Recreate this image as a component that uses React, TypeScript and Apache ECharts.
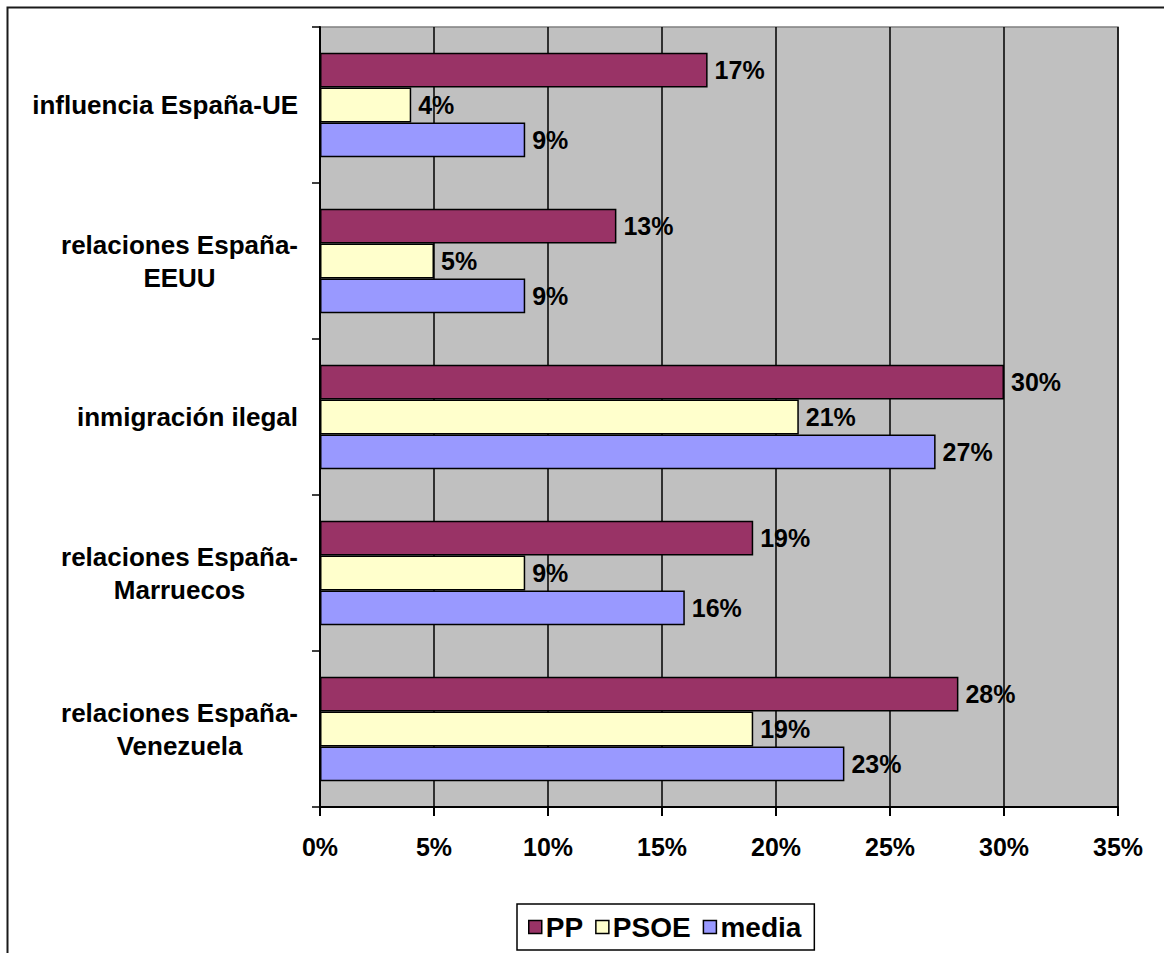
import React, { useEffect, useRef } from "react";
import * as echarts from "echarts";

const categories = [
  "influencia España-UE",
  "relaciones España-\nEEUU",
  "inmigración ilegal",
  "relaciones España-\nMarruecos",
  "relaciones España-\nVenezuela",
];
const seriesNames = ["PP", "PSOE", "media"];
const ppValues = [17, 13, 30, 19, 28];
const psoeValues = [4, 5, 21, 9, 19];
const mediaValues = [9, 9, 27, 16, 23];
const seriesColors = ["#993366", "#FFFFCC", "#9999FF"];
const xTicks = { min: 0, max: 35, interval: 5 };

const FONT = "'Liberation Sans', Arial, sans-serif";

export default function App() {
  const ref = useRef<HTMLDivElement>(null);
  useEffect(() => {
    if (!ref.current) return;
    const chart = echarts.init(ref.current, null, { renderer: "svg" });
    const values = [ppValues, psoeValues, mediaValues];
    chart.setOption({
      animation: false,
      backgroundColor: "#ffffff",
      textStyle: { fontFamily: FONT },
      graphic: [
        {
          type: "rect",
          shape: { x: 7.5, y: 7.5, width: 1300, height: 1100 },
          style: { fill: "none", stroke: "#1a1a1a", lineWidth: 2 },
          z: 0,
        },
      ],
      grid: {
        left: 320,
        top: 27,
        width: 798,
        height: 780,
        show: true,
        backgroundColor: "#C0C0C0",
        borderColor: "#808080",
        borderWidth: 1.5,
      },
      legend: {
        left: 517,
        top: 904,
        orient: "horizontal",
        padding: [9, 13, 9, 11],
        itemWidth: 13,
        itemHeight: 13,
        itemGap: 12,
        borderColor: "#000",
        borderWidth: 1.5,
        backgroundColor: "#fff",
        icon: "rect",
        textStyle: { fontFamily: FONT, fontWeight: "bold", fontSize: 28, color: "#000", padding: [0, 0, 0, -1] },
        itemStyle: { borderColor: "#000", borderWidth: 1.5 },
        data: seriesNames,
      },
      xAxis: {
        type: "value",
        min: xTicks.min,
        max: xTicks.max,
        interval: xTicks.interval,
        axisLine: { show: true, lineStyle: { color: "#000", width: 2 } },
        axisTick: { show: true, length: 9, lineStyle: { color: "#000", width: 2 } },
        splitLine: { show: true, lineStyle: { color: "#000", width: 1.5 } },
        axisLabel: {
          formatter: (v: number) => `${v}%`,
          fontFamily: FONT,
          fontWeight: "bold",
          fontSize: 25,
          color: "#000",
          margin: 27,
        },
      },
      yAxis: {
        type: "category",
        inverse: true,
        data: categories,
        axisLine: { show: true, lineStyle: { color: "#000", width: 2 } },
        axisTick: { show: true, length: 8, lineStyle: { color: "#000", width: 1.5 } },
        splitLine: { show: false },
        axisLabel: {
          margin: 22,
          formatter: (v: string) => v.split("\n").map((l) => `{a|${l}}`).join("\n"),
          rich: {
            a: {
              align: "center",
              fontFamily: FONT,
              fontWeight: "bold",
              fontSize: 26,
              color: "#000",
              lineHeight: 33,
            },
          },
        },
      },
      series: seriesNames.map((name, i) => ({
        name,
        type: "bar",
        data: values[i],
        barGap: "0%",
        barCategoryGap: "33%",
        itemStyle: { color: seriesColors[i], borderColor: "#000", borderWidth: 1.5 },
        label: {
          show: true,
          position: "right",
          distance: 7,
          formatter: (p: any) => `${p.value}%`,
          fontFamily: FONT,
          fontWeight: "bold",
          fontSize: 25,
          color: "#000",
        },
      })),
    });
    return () => chart.dispose();
  }, []);
  return (
    <div
      ref={ref}
      style={{ position: "absolute", left: 0, top: 0, width: 1164, height: 953 }}
    />
  );
}
